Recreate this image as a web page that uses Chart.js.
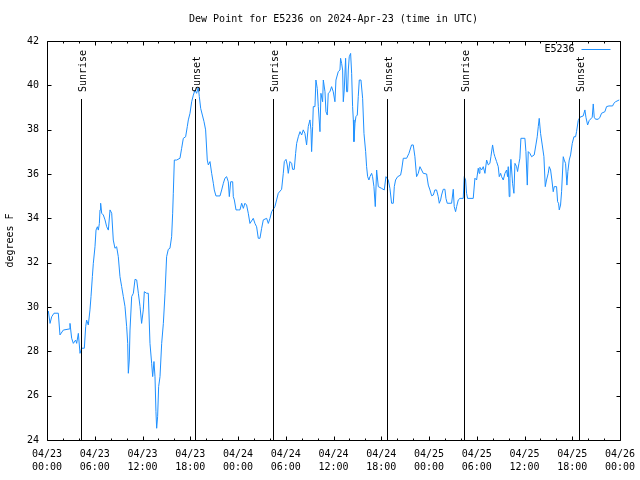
<!DOCTYPE html>
<html>
<head>
<meta charset="utf-8">
<script src="https://cdn.jsdelivr.net/npm/chart.js@4.4.1/dist/chart.umd.min.js"></script>
<style>
  html, body { margin: 0; padding: 0; background: #fff; }
  canvas { display: block; }
</style>
</head>
<body>
<canvas id="chart" width="640" height="480"></canvas>
<script>
// Dew point for E5236, 04/23 00:00 to 04/26 00:00 UTC
// x = hours since 2024-04-23 00:00 UTC

const hours = [
  0.17, 0.38, 0.59, 0.88, 1.42, 1.63, 2.05, 2.81, 2.89, 3.10,
  3.31, 3.60, 3.73, 3.94, 4.15, 4.36, 4.69, 4.86, 4.98, 5.19,
  5.40, 5.53, 5.70, 5.82, 6.03, 6.16, 6.33, 6.45, 6.58, 6.66,
  6.74, 6.87, 7.08, 7.29, 7.50, 7.71, 7.92, 8.13, 8.33, 8.54,
  8.75, 8.96, 9.17, 9.38, 9.59, 9.80, 10.01, 10.14, 10.22, 10.34,
  10.43, 10.64, 10.85, 11.06, 11.27, 11.48, 11.69, 11.89, 12.10, 12.23,
  12.52, 12.73, 12.94, 13.15, 13.28, 13.44, 13.57, 13.69, 13.78, 13.90,
  14.03, 14.20, 14.41, 14.62, 14.83, 15.03, 15.24, 15.45, 15.66, 15.79,
  15.87, 16.00, 16.29, 16.71, 16.92, 17.13, 17.42, 17.63, 17.76, 17.97,
  18.18, 18.39, 18.60, 18.80, 19.01, 19.14, 19.31, 19.52, 19.73, 19.93,
  20.14, 20.27, 20.48, 20.69, 20.90, 21.02, 21.23, 21.74, 21.95, 22.16,
  22.36, 22.57, 22.78, 22.91, 23.08, 23.33, 23.41, 23.54, 23.75, 24.04,
  24.25, 24.46, 24.67, 24.87, 25.08, 25.29, 25.50, 25.92, 26.13, 26.34,
  26.55, 26.76, 26.97, 27.18, 27.60, 27.81, 28.02, 28.23, 28.64, 28.85,
  29.06, 29.48, 29.69, 29.82, 30.03, 30.19, 30.32, 30.53, 30.74, 30.86,
  31.07, 31.24, 31.37, 31.58, 31.79, 32.00, 32.20, 32.41, 32.62, 32.83,
  33.04, 33.17, 33.25, 33.38, 33.46, 33.67, 33.79, 33.96, 34.09, 34.30,
  34.42, 34.63, 34.72, 34.93, 35.05, 35.22, 35.34, 35.55, 35.76, 35.97,
  36.18, 36.31, 36.60, 36.81, 36.89, 37.02, 37.15, 37.23, 37.35, 37.52,
  37.65, 37.77, 37.86, 37.98, 38.15, 38.28, 38.40, 38.49, 38.57, 38.70,
  38.82, 38.99, 39.11, 39.24, 39.45, 39.66, 39.83, 40.04, 40.16, 40.29,
  40.45, 40.58, 40.79, 40.91, 41.08, 41.25, 41.42, 41.63, 42.05, 42.38,
  42.59, 42.88, 43.09, 43.30, 43.51, 43.64, 43.80, 44.06, 44.43, 44.56,
  44.77, 45.19, 45.48, 45.81, 46.02, 46.23, 46.44, 46.65, 46.86, 47.07,
  47.28, 47.70, 47.91,
  48.12, 48.33, 48.54, 48.74, 48.95, 49.16, 49.29, 49.46, 49.58, 49.79,
  50.00, 50.13, 50.29, 50.84, 51.05, 51.17, 51.34, 51.47, 51.68, 51.89,
  52.30, 52.43, 52.60, 52.72, 52.85, 53.56, 53.77, 53.98, 54.19, 54.31,
  54.40, 54.61, 54.82, 55.03, 55.24, 55.45, 55.65, 55.78, 55.99, 56.16,
  56.28, 56.49, 56.70, 56.83, 57.00, 57.12, 57.33, 57.54, 57.75, 57.87,
  57.96, 58.08, 58.17, 58.29, 58.50, 58.67, 58.80, 59.01, 59.13, 59.30,
  59.42, 59.55, 60.05, 60.18, 60.35, 60.47, 60.68, 60.89, 61.22, 61.43,
  61.60, 61.73, 61.85, 62.02, 62.23, 62.44, 62.61, 62.77, 62.98, 63.11,
  63.28, 63.44, 63.61, 63.74, 64.03, 64.16, 64.28, 64.37, 64.53, 64.66,
  64.87, 64.99, 65.16, 65.33, 65.45, 65.62, 65.79, 66.00, 66.21, 66.42,
  66.54, 66.75, 66.96, 67.38, 67.59, 67.72, 67.93, 68.13, 68.51, 68.64,
  68.76, 68.93, 69.27, 69.48, 69.68, 70.10, 70.31, 70.61, 71.07, 71.23,
  71.44, 71.90
];

const dewPoint = [
  29.82, 29.26, 29.56, 29.72, 29.72, 28.74, 28.96, 29.01, 29.26, 28.59,
  28.36, 28.51, 28.36, 28.81, 27.91, 28.14, 28.14, 29.11, 29.41, 29.19,
  29.87, 30.47, 31.37, 31.97, 32.72, 33.47, 33.62, 33.47, 33.77, 34.38,
  34.68, 34.23, 34.15, 33.93, 33.62, 33.47, 34.38, 34.23, 33.02, 32.65,
  32.72, 32.27, 31.37, 30.92, 30.47, 30.02, 29.11, 28.36, 27.01, 27.61,
  28.96, 30.47, 30.62, 31.25, 31.22, 30.62, 30.02, 29.26, 29.87, 30.69,
  30.62, 30.62, 28.36, 27.46, 26.86, 27.54, 26.86, 25.28, 24.53, 25.05,
  26.41, 26.86, 28.36, 29.26, 30.62, 32.27, 32.60, 32.65, 33.17, 34.23,
  35.13, 36.63, 36.63, 36.71, 37.16, 37.61, 37.68, 38.14, 38.44, 38.74,
  39.26, 39.56, 39.79, 39.64, 39.91, 39.49, 38.96, 38.66, 38.36, 37.99,
  36.63, 36.41, 36.56, 36.03, 35.58, 35.28, 35.01, 35.01, 35.28, 35.58,
  35.81, 35.88, 35.65, 34.98, 35.65, 35.65, 34.98, 34.83, 34.38, 34.38,
  34.38, 34.68, 34.45, 34.68, 34.60, 34.23, 33.77, 34.00, 33.77, 33.62,
  33.10, 33.10, 33.55, 33.93, 34.00, 33.77, 34.00, 34.30, 34.53, 34.83,
  35.13, 35.31, 36.03, 36.56, 36.66, 36.41, 36.03, 36.56, 36.48, 36.21,
  36.21, 36.93, 37.38, 37.68, 37.91, 37.76, 37.99, 37.83, 37.31, 38.14,
  38.44, 37.99, 37.01, 38.14, 39.04, 39.04, 40.24, 39.86, 39.04, 37.91,
  39.64, 39.26, 40.24, 39.71, 38.81, 38.66, 39.64, 39.71, 39.94, 39.71,
  39.26, 40.24, 40.62, 40.69, 41.22, 40.99, 40.69, 39.26, 39.79, 41.22,
  39.71, 39.71, 40.69, 41.29, 41.44, 40.54, 39.04, 38.44, 37.46, 38.29,
  38.59, 38.66, 39.49, 40.24, 40.24, 39.41, 37.83, 37.01, 36.33, 35.88,
  35.73, 35.88, 36.03, 35.88, 35.43, 34.53, 36.18, 35.43, 35.35, 35.28,
  35.88, 35.73, 35.35, 34.68, 34.68, 35.43, 35.73, 35.88, 35.95, 36.18,
  36.71, 36.71, 36.93, 37.31, 37.31, 36.78, 35.88, 36.03, 36.33, 36.18,
  36.03, 36.00, 35.50,
  35.28, 35.02, 35.05, 35.28, 35.28, 34.98, 34.68, 34.83, 35.05, 35.31,
  35.31, 34.90, 34.68, 34.68, 35.31, 34.53, 34.30, 34.53, 34.83, 34.90,
  34.90, 35.88, 35.73, 35.13, 34.90, 34.90, 35.81, 35.73, 36.26, 36.03,
  36.30, 36.18, 36.33, 36.03, 36.63, 36.41, 36.48, 36.78, 37.31, 36.93,
  36.78, 36.56, 36.33, 35.88, 36.03, 35.88, 35.73, 36.03, 36.18, 35.88,
  36.33, 34.98, 35.81, 36.66, 35.58, 35.13, 36.48, 36.33, 36.11, 36.48,
  36.71, 37.61, 37.61, 37.01, 35.50, 37.01, 36.93, 36.78, 36.86, 37.31,
  37.68, 38.14, 38.51, 37.83, 37.31, 36.78, 35.43, 35.73, 36.03, 36.33,
  36.18, 35.73, 35.20, 35.43, 35.43, 34.75, 34.68, 34.38, 34.60, 35.20,
  36.78, 36.63, 36.48, 35.50, 36.11, 36.63, 36.86, 37.38, 37.68, 37.68,
  37.91, 38.41, 38.56, 38.62, 38.89, 38.56, 38.21, 38.41, 38.56, 39.16,
  38.56, 38.47, 38.47, 38.56, 38.74, 38.81, 39.04, 39.07, 39.07, 39.19,
  39.26, 39.34
];

// one label per 6 hour tick, 0..72
const xTickLabels = [
  ['04/23', '00:00'], ['04/23', '06:00'], ['04/23', '12:00'], ['04/23', '18:00'],
  ['04/24', '00:00'], ['04/24', '06:00'], ['04/24', '12:00'], ['04/24', '18:00'],
  ['04/25', '00:00'], ['04/25', '06:00'], ['04/25', '12:00'], ['04/25', '18:00'],
  ['04/26', '00:00']
];

const sunHours = [4.27, 18.59, 28.39, 42.71, 52.39, 66.83];
const sunLabels = ['Sunrise', 'Sunset', 'Sunrise', 'Sunset', 'Sunrise', 'Sunset'];

const FONT = '10px "DejaVu Sans Mono", monospace';
const LINE_COLOR = '#1e90ff';
const SUN_LINE_TOP = 39.38; // y value where the sunrise/sunset marks start

Chart.defaults.font.family = '"DejaVu Sans Mono", monospace';
Chart.defaults.font.size = 10;
Chart.defaults.font.lineHeight = 1.3;
Chart.defaults.color = '#000';

const points = hours.map((h, i) => ({ x: h, y: dewPoint[i] }));

const decor = {
  id: 'decor',
  beforeDraw(chart) {
    const c = chart.ctx;
    c.save();
    c.fillStyle = '#fff';
    c.fillRect(0, 0, chart.width, chart.height);
    c.restore();
  },
  afterDraw(chart) {
    const c = chart.ctx;
    const a = chart.chartArea;
    const xs = chart.scales.x, ys = chart.scales.y;
    const L = Math.round(a.left) + 0.5, R = Math.round(a.right) + 0.5;
    const T = Math.round(a.top) + 0.5, B = Math.round(a.bottom) + 0.5;
    c.save();
    c.strokeStyle = '#000';
    c.lineWidth = 1;
    c.beginPath();
    // frame
    c.rect(L, T, R - L, B - T);
    // x ticks every 2 h, longer every 6 h, on bottom and top
    for (let h = 0; h <= 72; h += 2) {
      const px = Math.round(xs.getPixelForValue(h)) + 0.5;
      const len = h % 6 === 0 ? 4 : 2;
      c.moveTo(px, B); c.lineTo(px, B - len);
      c.moveTo(px, T); c.lineTo(px, T + len);
    }
    // y ticks on left and right
    ys.ticks.forEach(t => {
      const py = Math.round(ys.getPixelForValue(t.value)) + 0.5;
      c.moveTo(L, py); c.lineTo(L + 4, py);
      c.moveTo(R, py); c.lineTo(R - 4, py);
    });
    // sunrise / sunset lines
    const yTop = Math.round(ys.getPixelForValue(SUN_LINE_TOP));
    sunHours.forEach(h => {
      const px = Math.round(xs.getPixelForValue(h)) + 0.5;
      c.moveTo(px, yTop); c.lineTo(px, B);
    });
    c.stroke();

    c.fillStyle = '#000';
    c.font = FONT;
    sunHours.forEach((h, i) => {
      const px = Math.round(xs.getPixelForValue(h));
      c.save();
      c.translate(px + 2, yTop - 7);
      c.rotate(-Math.PI / 2);
      c.textAlign = 'left';
      c.textBaseline = 'middle';
      c.fillText(sunLabels[i], 0, 0);
      c.restore();
    });

    // title
    c.textAlign = 'center';
    c.textBaseline = 'middle';
    c.fillText('Dew Point for E5236 on 2024-Apr-23 (time in UTC)', (a.left + a.right) / 2, 19);

    // legend, top right inside the plot
    const ds = chart.data.datasets[0];
    c.textAlign = 'right';
    c.fillText(ds.label, R - 46, 49);
    c.beginPath();
    c.strokeStyle = ds.borderColor;
    c.moveTo(R - 39, 49.5);
    c.lineTo(R - 10, 49.5);
    c.stroke();
    c.restore();
  }
};

const chart = new Chart(document.getElementById('chart'), {
  type: 'line',
  data: {
    datasets: [{
      label: 'E5236',
      data: points,
      borderColor: LINE_COLOR,
      borderWidth: 1,
      pointRadius: 0,
      tension: 0,
      fill: false
    }]
  },
  options: {
    responsive: false,
    animation: false,
    layout: { padding: { top: 41, right: 20, left: 0, bottom: 0 } },
    plugins: {
      legend: { display: false },
      title: { display: false },
      tooltip: { enabled: false }
    },
    scales: {
      x: {
        type: 'linear',
        min: 0,
        max: 72,
        grid: { display: false, drawTicks: false },
        border: { display: false },
        ticks: {
          stepSize: 6,
          autoSkip: false,
          maxRotation: 0,
          padding: 8,
          callback: v => xTickLabels[Math.round(v / 6)]
        },
        afterFit(scale) {
          scale.height = 40;
          scale.paddingLeft = 0;
          scale.paddingRight = 0;
        }
      },
      y: {
        min: 24,
        max: 42,
        grid: { display: false, drawTicks: false },
        border: { display: false },
        ticks: { stepSize: 2, padding: 8 },
        title: { display: true, text: 'degrees F', padding: { top: 4, bottom: 4 } },
        afterFit(scale) { scale.width = 47; }
      }
    }
  },
  plugins: [decor]
});
</script>
</body>
</html>
